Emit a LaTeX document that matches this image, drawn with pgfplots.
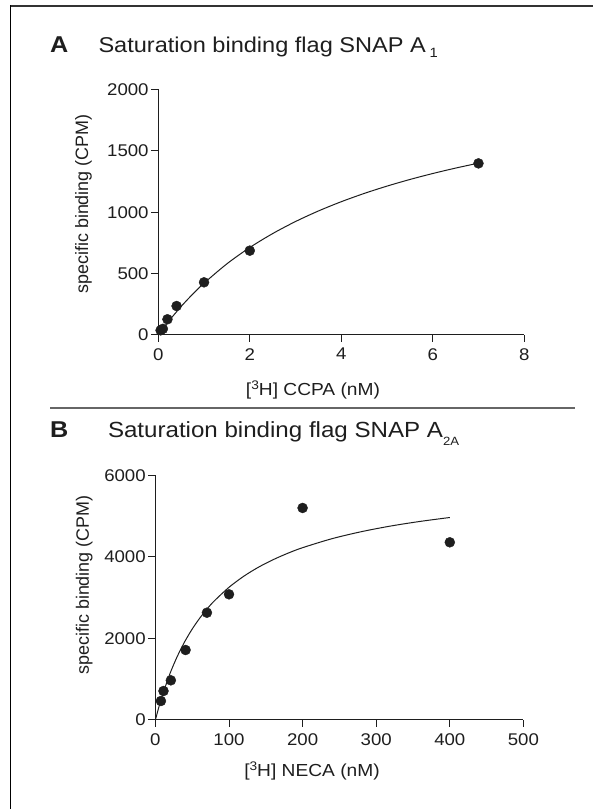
\documentclass[border=0pt]{standalone}
\usepackage{pgfplots}
\pgfplotsset{compat=1.18}
\usepackage{fontspec}
\setmainfont[FakeStretch=1.1]{Liberation Sans}
\newfontfamily\plainsans{Liberation Sans}
\definecolor{ink}{HTML}{1E1E1E}
\pgfplotsset{
  gp/.style={
    scale only axis,
    axis x line*=bottom, axis y line*=left,
    axis line style={-, line width=1bp, ink},
    tick align=outside,
    major tick length=7bp,
    tick style={line width=1bp, ink},
    minor tick num=0,
    tick label style={font=\fontsize{17}{17}\selectfont, text=ink},
    yticklabel style={inner sep=0pt, xshift=-2.5bp},
    xticklabel style={inner sep=0pt, yshift=-6bp},
    /pgf/number format/assume math mode=true,
    /pgf/number format/1000 sep={},
    clip=false,
  },
  dots/.style={only marks, mark=*, mark size=5bp, mark options={fill=ink, draw=ink}},
  fit/.style={no marks, line width=1bp, ink, smooth},
}
\newcommand{\supthree}{\raisebox{6.5bp}{\fontsize{12.5}{12.5}\selectfont 3}}
\begin{document}
\begin{tikzpicture}[x=1bp,y=1bp]
\path[use as bounding box] (0,0) rectangle (593,809);
% frame and separator
\draw[line width=2bp, black!80] (10,802.5) -- (593,802.5);
\draw[line width=1.3bp, black] (10.3,803.5) -- (10.3,0);
\draw[line width=2.3bp, black!60] (50,400.7) -- (575,400.7);
% titles
\node[anchor=base west, inner sep=0pt, text=ink, font=\bfseries\fontsize{23}{23}\selectfont] at (50,756) {A};
\node[anchor=base west, inner sep=0pt, text=ink, font=\fontsize{21.5}{21.5}\selectfont] at (98.3,756) {Saturation binding flag SNAP A\,\raisebox{-5bp}{\fontsize{13.5}{13.5}\selectfont 1}};
\node[anchor=base west, inner sep=0pt, text=ink, font=\bfseries\fontsize{23}{23}\selectfont] at (50,371.7) {B};
\node[anchor=base west, inner sep=0pt, text=ink, font=\fontsize{22}{22}\selectfont] at (107.8,371.7) {Saturation binding flag SNAP A\raisebox{-8bp}{\fontsize{12}{12}\selectfont 2A}};
% axis labels
\node[anchor=base, inner sep=0pt, text=ink, font=\fontsize{17.5}{17.5}\selectfont] at (313,413) {[\supthree H] CCPA (nM)};
\node[anchor=base, inner sep=0pt, text=ink, font=\fontsize{17.5}{17.5}\selectfont] at (312,32) {[\supthree H] NECA (nM)};
\node[rotate=90, anchor=base, inner sep=0pt, text=ink, font=\plainsans\fontsize{18}{18}\selectfont] at (88,605) {specific binding (CPM)};
\node[rotate=90, anchor=base, inner sep=0pt, text=ink, font=\plainsans\fontsize{18}{18}\selectfont] at (88.8,224) {specific binding (CPM)};

\begin{axis}[gp, at={(158.3bp,474bp)}, anchor=south west,
  width=365.9bp, height=245.5bp,
  xmin=0, xmax=8, ymin=0, ymax=2000,
  xtick={0,2,4,6,8}, ytick={0,500,1000,1500,2000}]
\addplot[fit] coordinates {(0,0)(0.1,50.7)(0.25,122.6)(0.5,232.7)(0.75,332)(1,422.2)(1.5,579.7)(2,712.5)(2.5,826)(3,924.3)(3.5,1010.1)(4,1085.7)(4.5,1152.8)(5,1212.8)(5.5,1266.7)(6,1315.4)(6.5,1359.6)(7,1400)};
\addplot[dots] coordinates {(0.05,38)(0.1,50)(0.2,128)(0.4,236)(1,429)(2,687)(7,1398)};
\end{axis}

\begin{axis}[gp, at={(155.4bp,89bp)}, anchor=south west,
  width=368bp, height=244.7bp,
  xmin=0, xmax=500, ymin=0, ymax=6000,
  xtick={0,100,200,300,400,500}, ytick={0,2000,4000,6000}]
\addplot[fit] coordinates {(0,0)(2.5,172)(5,334)(10,634)(20,1147)(30,1570)(40,1926)(50,2230)(60,2491)(70,2719)(80,2919)(100,3254)(120,3524)(140,3746)(160,3931)(180,4089)(200,4225)(240,4446)(280,4618)(320,4757)(360,4870)(400,4965)};
\addplot[dots] coordinates {(7.5,466)(11,711)(21,973)(41,1716)(70,2631)(100,3082)(200,5199)(400,4357)};
\end{axis}
\end{tikzpicture}
\end{document}
